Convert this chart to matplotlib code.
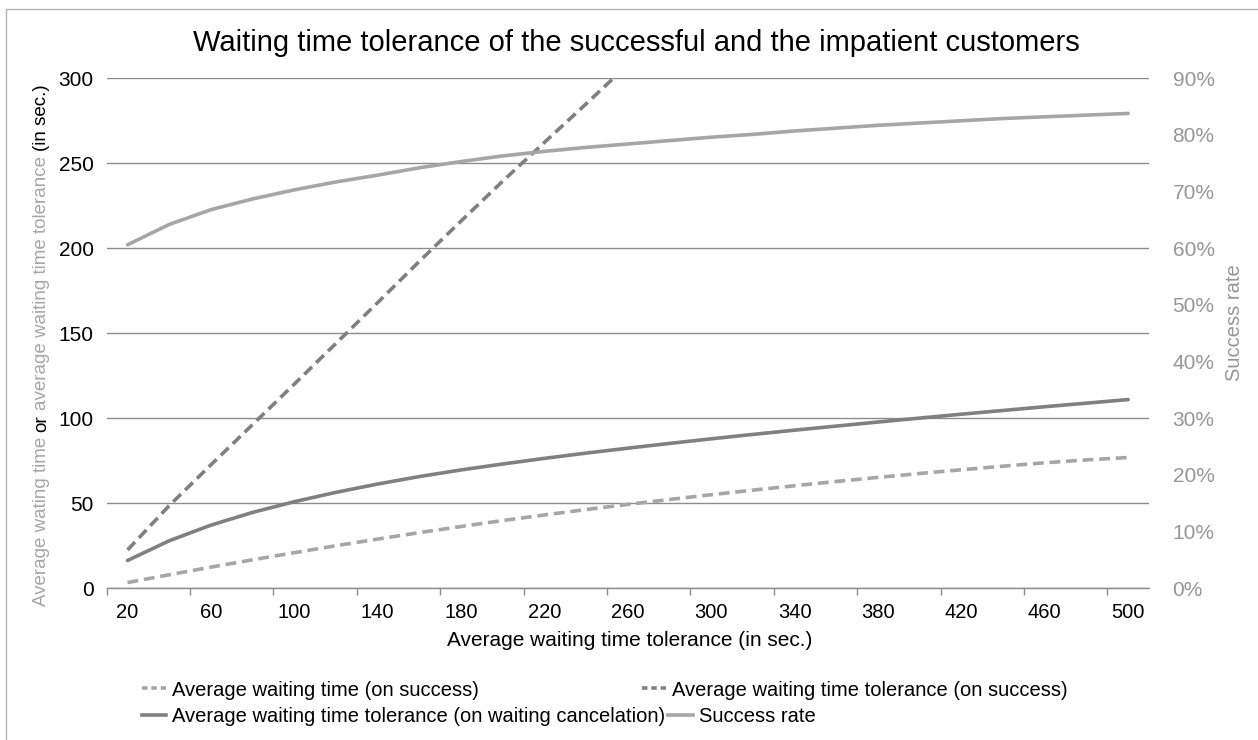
import matplotlib
matplotlib.use("Agg")
import matplotlib.pyplot as plt
from matplotlib.lines import Line2D
from matplotlib.patches import Rectangle
from matplotlib.ticker import FixedLocator, FuncFormatter, NullFormatter

plt.rcParams['font.family'] = ['Liberation Sans', 'DejaVu Sans']

# ---------------- data ----------------
categories = [20, 40, 60, 80, 100, 120, 140, 160, 180, 200, 220, 240, 260,
              280, 300, 320, 340, 360, 380, 400, 420, 440, 460, 480, 500]
avg_wait_success = [3.2, 7.8, 12.3, 16.6, 20.8, 24.9, 28.8, 32.6, 36.2, 39.7,
                    43.0, 46.2, 49.2, 52.1, 54.9, 57.6, 60.2, 62.7, 65.1, 67.4,
                    69.6, 71.7, 73.7, 75.4, 76.8]
avg_tol_success = [22.4, 48.5, 72.5, 96.2, 120.0, 144.0, 168.0, 192.3, 216.0,
                   239.5, 262.3, 285.0, 308.0, 330.0, 352.0, 374.0, 396.0,
                   417.0, 438.0, 459.0, 480.0, 501.0, 521.0, 541.0, 561.0]
avg_tol_cancel = [16.2, 27.8, 37.0, 44.5, 50.8, 56.3, 61.2, 65.6, 69.5, 73.0,
                  76.3, 79.4, 82.3, 85.1, 87.8, 90.4, 92.9, 95.3, 97.7, 100.0,
                  102.3, 104.5, 106.7, 108.8, 110.9]
success_rate = [60.6, 64.2, 66.8, 68.7, 70.3, 71.7, 72.9, 74.2, 75.3, 76.3,
                77.1, 77.8, 78.4, 79.0, 79.6, 80.1, 80.7, 81.2, 81.7, 82.1,
                82.5, 82.9, 83.2, 83.5, 83.8]
left_ticks = [0, 50, 100, 150, 200, 250, 300]
right_ticks = [0, 10, 20, 30, 40, 50, 60, 70, 80, 90]

labels = ["Average waiting time (on success)",
          "Average waiting time tolerance (on success)",
          "Average waiting time tolerance (on waiting cancelation)",
          "Success rate"]

# ---------------- style ----------------
DARK = '#808080'
LIGHT = '#A6A6A6'
GRID = '#8C8C8C'
RIGHT_TXT = '#969696'
LW = 2.6
DASH = (3.0, 1.6)
FS = 15
LEG_FS = 14.5

W, H = 1258, 740
fig = plt.figure(figsize=(W / 100, H / 100), dpi=100)


def fx(p):
    return p / W


def fy(p):
    return 1 - p / H


# outer chart border (only left/top edges visible in the image)
fig.add_artist(Rectangle((fx(6), -0.2), 1.5, fy(9) + 0.2, transform=fig.transFigure,
                         fill=False, edgecolor='#B4B4B4', lw=1.0))

L, R, T, B = 106.7, 1149.0, 78.3, 588.0
ax = fig.add_axes([fx(L), fy(B), (R - L) / W, (B - T) / H])
ax2 = ax.twinx()

x = list(range(len(categories)))

l1, = ax.plot(x, avg_wait_success, color=LIGHT, lw=LW, dashes=DASH, zorder=3)
l2, = ax.plot(x, avg_tol_success, color=DARK, lw=LW, dashes=DASH, zorder=3)
l3, = ax.plot(x, avg_tol_cancel, color=DARK, lw=LW, zorder=3,
              solid_capstyle='round')
l4, = ax2.plot(x, success_rate, color=LIGHT, lw=LW, zorder=3,
               solid_capstyle='round')

ax.set_xlim(-0.5, len(categories) - 0.5)
ax.set_ylim(0, 300)
ax2.set_ylim(0, 90)

ax.set_yticks(left_ticks)
ax.yaxis.grid(True, color=GRID, lw=1.0)
ax.set_axisbelow(True)
ax.tick_params(axis='y', length=0, pad=9.5, labelsize=FS, labelcolor='black')

ax2.set_yticks(right_ticks)
ax2.yaxis.set_major_formatter(FuncFormatter(lambda v, p: f"{int(round(v))}%"))
ax2.tick_params(axis='y', length=0, pad=17, labelsize=FS, labelcolor=RIGHT_TXT)

# x axis: tick marks between categories every 2, labels every 2 categories
ax.xaxis.set_major_locator(FixedLocator([i - 0.5 for i in range(0, len(categories), 2)]))
ax.xaxis.set_major_formatter(NullFormatter())
ax.xaxis.set_minor_locator(FixedLocator(list(range(0, len(categories), 2))))
ax.xaxis.set_minor_formatter(FuncFormatter(lambda v, p: str(categories[int(round(v))])))
ax.tick_params(axis='x', which='major', length=5, width=1.0, color=GRID, direction='out')
ax.tick_params(axis='x', which='minor', length=0, pad=11, labelsize=14.5, labelcolor='black')

for s in ['left', 'right', 'top']:
    ax.spines[s].set_visible(False)
    ax2.spines[s].set_visible(False)
ax2.spines['bottom'].set_visible(False)
ax.spines['bottom'].set_color(GRID)
ax.spines['bottom'].set_linewidth(1.0)

# titles
fig.text(fx(636.5), fy(43), "Waiting time tolerance of the successful and the impatient customers",
         ha='center', va='center', fontsize=21, color='black')
fig.text(fx(630), fy(640), "Average waiting time tolerance (in sec.)",
         ha='center', va='center', fontsize=FS, color='black')
fig.text(fx(1235), fy(323), "Success rate", rotation=90, ha='center', va='center',
         fontsize=14.5, color=RIGHT_TXT)

# multi-coloured left axis title
YL_FS = 13.5
space_pt = 0.278 * YL_FS
pieces = [("Average wating time", LIGHT), ("or", 'black'),
          ("average waiting time tolerance", LIGHT), ("(in sec.)", 'black')]
t0 = fig.text(fx(42), fy(605), pieces[0][0], rotation=90, ha='center', va='bottom',
              fontsize=YL_FS, color=pieces[0][1])
texts = [t0]
prev = t0
for txt, col in pieces[1:]:
    t = ax.annotate(txt, xy=(0.5, 1.0), xycoords=prev, xytext=(0, space_pt),
                    textcoords='offset points', rotation=90, ha='center', va='bottom',
                    fontsize=YL_FS, color=col, annotation_clip=False)
    texts.append(t)
    prev = t

# legend entries (one per entry, placed like the Excel legend)
LEG_DASH = (1.5, 1.1)
h1 = Line2D([], [], color=LIGHT, lw=LW, dashes=LEG_DASH)
h2 = Line2D([], [], color=DARK, lw=LW, dashes=LEG_DASH)
h3 = Line2D([], [], color=DARK, lw=LW)
h4 = Line2D([], [], color=LIGHT, lw=LW)


def add_entry(handle, label, xpx, ypx):
    return fig.legend([handle], [label], loc='center left',
                      bbox_to_anchor=(xpx / W, fy(ypx)), frameon=False,
                      fontsize=LEG_FS, handlelength=1.2, handletextpad=0.3,
                      borderpad=0, borderaxespad=0)


lg1 = add_entry(h1, labels[0], 142, 690)
lg2 = add_entry(h2, labels[1], 642, 690)
lg3 = add_entry(h3, labels[2], 142, 717)

fig.canvas.draw()
rend = fig.canvas.get_renderer()
# centre the left title on its measured extent
bbs = [t.get_window_extent(rend) for t in texts]
y_lo = min(b.y0 for b in bbs)
y_hi = max(b.y1 for b in bbs)
cur_c = (y_lo + y_hi) / 2
target_c = (1 - 345 / H) * H
t0.set_position((fx(42), fy(605) + (target_c - cur_c) / H))

bb3 = lg3.get_window_extent(rend)
lg4 = add_entry(h4, labels[3], bb3.x1 + 3, 717)

fig.savefig("out.png", dpi=100)
